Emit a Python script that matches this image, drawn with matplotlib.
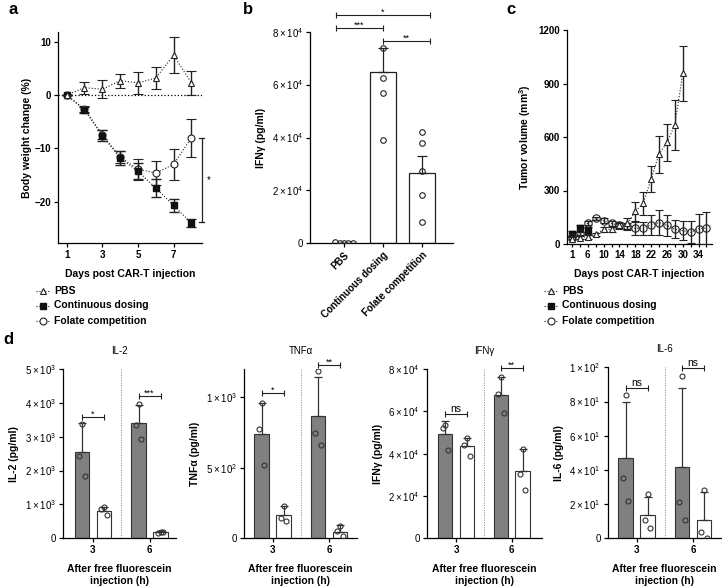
import numpy as np
import matplotlib
matplotlib.use('Agg')
import matplotlib.pyplot as plt

plt.rcParams['font.family'] = ['Liberation Sans', 'DejaVu Sans']
plt.rcParams['mathtext.default'] = 'regular'
plt.rcParams['axes.linewidth'] = 0.9
plt.rcParams['xtick.major.width'] = 0.9
plt.rcParams['ytick.major.width'] = 0.9
plt.rcParams['xtick.major.size'] = 3
plt.rcParams['ytick.major.size'] = 3
plt.rcParams['font.size'] = 7

# ---------------- data ----------------
# panel a : body weight change (%)
a_days = [1, 2, 3, 4, 5, 6, 7, 8]
a_pbs = [0, 1.4, 1.1, 2.7, 2.3, 3.2, 7.5, 2.3]
a_pbs_err = [0, 1.1, 1.7, 1.3, 2.1, 2.0, 3.4, 2.2]
a_cont = [0, -2.8, -7.6, -11.8, -14.3, -17.4, -20.7, -24.0]
a_cont_err = [0, 0.6, 1.0, 1.3, 1.5, 1.7, 1.2, 0.8]
a_fol = [0, -2.6, -7.4, -11.6, -13.9, -14.6, -13.0, -8.0]
a_fol_err = [0, 0.5, 0.9, 1.2, 2.0, 2.2, 2.9, 3.6]
a_xticks = [1, 3, 5, 7]
a_yticks = [-20, -10, 0, 10]

# panel b : IFNg
b_groups = ['PBS', 'Continuous dosing', 'Folate competition']
b_means = [250, 64900, 26600]
b_sem = [0, 9000, 6500]
b_pbs_pts = [600, 150, 100, 100, 150]
b_cont_pts = [74000, 62400, 57000, 39000]
b_fol_pts = [42000, 38000, 27500, 18300, 8000]

# panel c : tumour volume
c_days = ['1', '3', '6', '8', '10', '12', '14', '16', '18', '20', '22', '24',
          '26', '28', '30', '32', '34', '36']
c_pbs = [30, 36, 40, 54, 82, 82, 106, 115, 183, 228, 364, 503, 570, 667, 957]
c_pbs_err = [8, 8, 10, 8, 12, 12, 20, 30, 55, 65, 75, 105, 105, 140, 155]
c_cont = [58, 88, 78]
c_cont_err = [15, 20, 20]
c_fol = [38, 60, 118, 143, 130, 115, 105, 100, 88, 88, 108, 120, 105, 82, 75, 65, 85, 90]
c_fol_err = [8, 10, 10, 10, 15, 15, 15, 20, 35, 35, 57, 70, 58, 50, 55, 62, 85, 90]

# panel d : cytokines
d_times = ['3', '6']
il2_grey = [2540, 3400]; il2_grey_sd = [860, 550]
il2_white = [800, 180]; il2_white_sd = [130, 40]
il2_grey_pts = [[3370, 2430, 1830], [3980, 3340, 2920]]
il2_white_pts = [[930, 880, 680], [200, 150, 180]]

tnf_grey = [741, 864]; tnf_grey_sd = [220, 282]
tnf_white = [165, 47]; tnf_white_sd = [63, 47]
tnf_grey_pts = [[960, 772, 522], [1188, 748, 659]]
tnf_white_pts = [[228, 146, 122], [89, 54, 16]]

ifn_grey = [49100, 67600]; ifn_grey_sd = [6500, 8600]
ifn_white = [43500, 31700]; ifn_white_sd = [4000, 10600]
ifn_grey_pts = [[53500, 52000, 41500], [76000, 68000, 59000]]
ifn_white_pts = [[47500, 44300, 38800], [42300, 30400, 23000]]

il6_grey = [46.8, 41.9]; il6_grey_sd = [32.7, 46.2]
il6_white = [13.6, 10.7]; il6_white_sd = [10.8, 16.6]
il6_grey_pts = [[83.8, 35.1, 22.0], [95.1, 21.0, 10.7]]
il6_white_pts = [[25.7, 10.5, 6.0], [28.3, 3.9, 0.0]]

# ---------------- figure ----------------
W, H = 722, 587
fig = plt.figure(figsize=(W / 100, H / 100), dpi=100)


def add_ax(l, t, r, b):
    return fig.add_axes([l / W, 1 - b / H, (r - l) / W, (b - t) / H])


def style(ax):
    ax.spines['top'].set_visible(False)
    ax.spines['right'].set_visible(False)
    ax.tick_params(direction='out', labelsize=7, pad=2)


def sig(ax, x1, x2, y, label, fs=6.5, pad=0.0):
    ax.plot([x1, x2], [y, y], color='#222222', lw=0.8, clip_on=False,
            marker='|', ms=4.5, mew=0.8)
    ax.annotate(label, xy=((x1 + x2) / 2, y), xytext=(0, pad),
                textcoords='offset points', ha='center', va='bottom',
                fontsize=fs, annotation_clip=False)


BOLD = 'bold'

# ---------- panel a ----------
ax = add_ax(58.3, 31.7, 201.7, 243.3)
style(ax)
ax.axhline(0, color='k', ls=':', lw=0.9)
ekw = dict(color='#222222', ecolor='#222222', elinewidth=1.0, capsize=3.4,
           capthick=1.0, ls=':', lw=0.8)
ax.errorbar(a_days, a_fol, yerr=a_fol_err, marker='o', ms=5, mfc='white',
            mec='#222222', mew=0.8, **ekw, zorder=3)
ax.errorbar(a_days, a_cont, yerr=a_cont_err, marker='s', ms=4.3, mfc='#111111',
            mec='#111111', **ekw, zorder=4)
ax.errorbar(a_days, a_pbs, yerr=a_pbs_err, marker='^', ms=4.8, mfc='white',
            mec='#222222', mew=0.8, **ekw, zorder=5)
ax.set_xlim(0.53, 8.58)
ax.set_ylim(-27.8, 11.9)
ax.set_xticks(a_xticks)
ax.set_yticks(a_yticks)
for t in ax.get_xticklabels() + ax.get_yticklabels():
    t.set_fontweight(BOLD)
ax.set_xlabel('Days post CAR-T injection', fontsize=7.5, fontweight=BOLD, labelpad=6)
ax.set_ylabel('Body weight change (%)', fontsize=7.5, fontweight=BOLD, labelpad=2)
# significance bar
xs = 8.58
ax.plot([xs, xs], [-8, -23.8], color='#222222', lw=0.9, clip_on=False)
ax.plot([xs - 0.13, xs + 0.13], [-8, -8], color='#222222', lw=0.9, clip_on=False)
ax.plot([xs - 0.13, xs + 0.13], [-23.8, -23.8], color='#222222', lw=0.9, clip_on=False)
ax.text(xs + 0.37, -16, '*', fontsize=7, ha='center', va='center', clip_on=False)

# ---------- panel b ----------
ax = add_ax(310, 31.7, 453, 243.3)
style(ax)
bx = np.arange(len(b_groups))
ax.bar(bx, b_means, width=0.67, color='white', edgecolor='#222222', lw=0.9, zorder=2)
ax.errorbar(bx, b_means, yerr=[np.zeros(len(bx)), b_sem], fmt='none',
            ecolor='#222222', elinewidth=0.9, capsize=3.6, capthick=0.9, zorder=3)
pbs_jit = np.linspace(-0.22, 0.22, len(b_pbs_pts))
pkw = dict(ls='none', marker='o', ms=4, mfc='none', mec='#222222', mew=0.8, zorder=4)
ax.plot(bx[0] + pbs_jit, b_pbs_pts, **pkw)
ax.plot(np.full(len(b_cont_pts), bx[1]), b_cont_pts, **pkw)
ax.plot(np.full(len(b_fol_pts), bx[2]), b_fol_pts, **pkw)
ax.set_xlim(-0.87, 2.79)
ax.set_ylim(0, 80000)
ax.set_yticks([0, 20000, 40000, 60000, 80000])
ax.set_yticklabels(['0', r'$2 \times 10^{4}$', r'$4 \times 10^{4}$',
                    r'$6 \times 10^{4}$', r'$8 \times 10^{4}$'])
ax.set_xticks(bx)
ax.set_xticklabels(b_groups, rotation=45, ha='right', rotation_mode='anchor',
                   fontweight=BOLD, fontsize=7)
ax.set_ylabel('IFNγ (pg/ml)', fontsize=7.5, fontweight=BOLD, labelpad=4)
sig(ax, -0.21, 2.2, 86300, '*', pad=-1.5)
sig(ax, -0.21, 0.99, 81500, '***', pad=-1.5)
sig(ax, 0.99, 2.2, 76600, '**', pad=-1.5)

# ---------- panel c ----------
ax = add_ax(567.3, 30, 712, 244)
style(ax)
cx = np.arange(len(c_days))
ckw = dict(color='#222222', ecolor='#222222', elinewidth=1.0, capsize=2.6,
           capthick=1.0, ls=':', lw=0.8)
ax.errorbar(cx[:len(c_cont)], c_cont, yerr=c_cont_err, marker='s', ms=4.3,
            mfc='#111111', mec='#111111', **ckw, zorder=3)
ax.errorbar(cx[:len(c_fol)], c_fol, yerr=c_fol_err, marker='o', ms=5.3,
            mfc='none', mec='#222222', mew=0.8, **ckw, zorder=4)
ax.errorbar(cx[:len(c_pbs)], c_pbs, yerr=c_pbs_err, marker='^', ms=4.8,
            mfc='white', mec='#222222', mew=0.8, **ckw, zorder=5)
ax.set_xlim(-0.6, 17.7)
ax.set_ylim(0, 1200)
ax.set_yticks([0, 300, 600, 900, 1200])
ax.set_xticks(cx)
ax.set_xticklabels([d if i % 2 == 0 else '' for i, d in enumerate(c_days)])
for t in ax.get_xticklabels() + ax.get_yticklabels():
    t.set_fontweight(BOLD)
ax.tick_params(axis='x', length=2.5)
ax.set_xlabel('Days post CAR-T injection', fontsize=7.5, fontweight=BOLD, labelpad=6)
ax.set_ylabel('Tumor volume (mm$^{3}$)', fontsize=7.5, fontweight=BOLD, labelpad=4)

# ---------- panel d ----------
def dpanel(l, t, r, ylim, yticks, ytl, ylabel, title, xlim,
           gm, gs, wm, ws, gp, wp, sigs):
    ax = add_ax(l, t, r, 538.3)
    style(ax)
    x = np.arange(len(d_times))
    off, wd = 0.195, 0.255
    ax.axvline(0.5, color='#888888', ls=(0, (1.5, 1.5)), lw=0.6, zorder=1)
    ax.bar(x - off, gm, width=wd, color='#808080', edgecolor='#333333', lw=0.8, zorder=2)
    ax.bar(x + off, wm, width=wd, color='white', edgecolor='#333333', lw=0.8, zorder=2)
    ekw = dict(fmt='none', ecolor='#333333', elinewidth=0.9, capsize=2.8,
               capthick=0.9, zorder=3)
    ax.errorbar(x - off, gm, yerr=[np.zeros(2), gs], **ekw)
    ax.errorbar(x + off, wm, yerr=[np.zeros(2), ws], **ekw)
    jit = np.array([0.0, -0.05, 0.05])
    pk = dict(ls='none', marker='o', ms=3.6, mfc='none', mec='#333333', mew=0.8, zorder=4)
    for i in range(len(x)):
        ax.plot(x[i] - off + jit, gp[i], **pk)
        ax.plot(x[i] + off + jit, wp[i], **pk)
    ax.set_xlim(*xlim)
    ax.set_ylim(*ylim)
    ax.set_xticks(x)
    ax.set_xticklabels(d_times, fontweight=BOLD)
    ax.set_yticks(yticks)
    ax.set_yticklabels(ytl)
    ax.set_ylabel(ylabel, fontsize=7.5, fontweight=BOLD, labelpad=4)
    ax.set_xlabel('After free fluorescein\ninjection (h)', fontsize=7.5,
                  fontweight=BOLD, labelpad=6, linespacing=1.3)
    ax.set_title(title, fontsize=7, pad=11)
    for (gi, y, lab) in sigs:
        pad = 0.0 if lab == 'ns' else -1.5
        fs = 7.5 if lab == 'ns' else 6.5
        sig(ax, gi - off, gi + off, y, lab, fs=fs, pad=pad)
    return ax


dpanel(63.3, 369, 175.7, (0, 5000), [0, 1000, 2000, 3000, 4000, 5000],
       ['0', r'$1 \times 10^{3}$', r'$2 \times 10^{3}$', r'$3 \times 10^{3}$',
        r'$4 \times 10^{3}$', r'$5 \times 10^{3}$'],
       'IL-2 (pg/ml)', 'IL-2', (-0.52, 1.46),
       il2_grey, il2_grey_sd, il2_white, il2_white_sd, il2_grey_pts, il2_white_pts,
       [(0, 3590, '*'), (1, 4200, '***')])

dpanel(244.3, 369, 356.7, (0, 1200), [0, 500, 1000],
       ['0', r'$5 \times 10^{2}$', r'$1 \times 10^{3}$'],
       'TNFα (pg/ml)', 'TNFα', (-0.50, 1.49),
       tnf_grey, tnf_grey_sd, tnf_white, tnf_white_sd, tnf_grey_pts, tnf_white_pts,
       [(0, 1030, '*'), (1, 1231, '**')])

dpanel(426.7, 369, 541.7, (0, 80000), [0, 20000, 40000, 60000, 80000],
       ['0', r'$2 \times 10^{4}$', r'$4 \times 10^{4}$', r'$6 \times 10^{4}$',
        r'$8 \times 10^{4}$'],
       'IFNγ (pg/ml)', 'IFNγ', (-0.53, 1.54),
       ifn_grey, ifn_grey_sd, ifn_white, ifn_white_sd, ifn_grey_pts, ifn_white_pts,
       [(0, 58600, 'ns'), (1, 80500, '**')])

dpanel(607.7, 367.3, 721.5, (0, 100), [0, 20, 40, 60, 80, 100],
       ['0', r'$2 \times 10^{1}$', r'$4 \times 10^{1}$', r'$6 \times 10^{1}$',
        r'$8 \times 10^{1}$', r'$1 \times 10^{2}$'],
       'IL-6 (pg/ml)', 'IL-6', (-0.51, 1.5),
       il6_grey, il6_grey_sd, il6_white, il6_white_sd, il6_grey_pts, il6_white_pts,
       [(0, 87.7, 'ns'), (1, 99.5, 'ns')])

# ---------- overlay: legends and panel letters ----------
ov = fig.add_axes([0, 0, 1, 1])
ov.set_xlim(0, W)
ov.set_ylim(H, 0)
ov.axis('off')

leg_labels = ['PBS', 'Continuous dosing', 'Folate competition']
leg_styles = [dict(marker='^', ms=4.8, mfc='white', mec='#222222', mew=0.8),
              dict(marker='s', ms=4.3, mfc='#111111', mec='#111111'),
              dict(marker='o', ms=5, mfc='white', mec='#222222', mew=0.8)]
leg_rows = [290.5, 305.5, 321]
for mx in (43, 551):
    for lab, st, yy in zip(leg_labels, leg_styles, leg_rows):
        ov.plot([mx - 7, mx + 7], [yy, yy], ls=':', lw=0.8, color='#222222')
        ov.plot([mx], [yy], ls='none', **st)
        ov.text(mx + 11, yy, lab, fontsize=7.5, fontweight=BOLD, va='center', ha='left')

for lab, xx, yy in [('a', 13, 10), ('b', 248, 10), ('c', 511, 9), ('d', 8, 339)]:
    ov.text(xx, yy, lab, fontsize=12, fontweight='bold', ha='center', va='center')

fig.savefig('out.png', dpi=100)
